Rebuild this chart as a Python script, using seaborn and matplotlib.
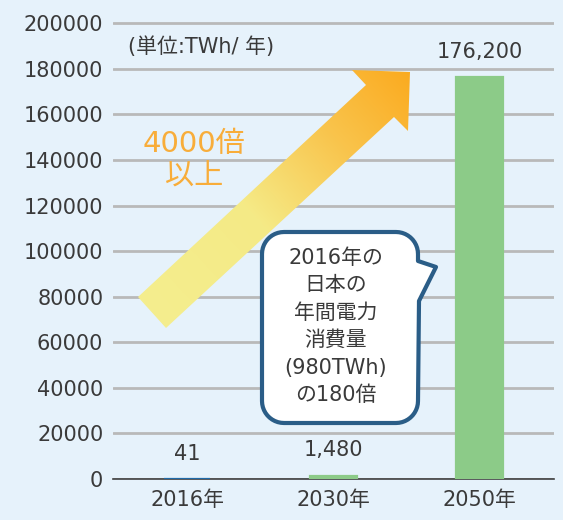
import numpy as np
import pandas as pd
import seaborn as sns
import matplotlib.pyplot as plt
from matplotlib.patches import Polygon, PathPatch
from matplotlib.path import Path
from matplotlib.colors import LinearSegmentedColormap

# data
years = ["2016年", "2030年", "2050年"]
power = [41, 1480, 176200]          # TWh / year
bar_colors = ["#1f6aa8", "#8ccb88", "#8ccb88"]
yticks = list(range(0, 200001, 20000))
unit_label = "(単位:TWh/ 年)"
arrow_lines = ["4000倍", "以上"]
bubble_lines = ["2016年の", "日本の", "年間電力", "消費量", "(980TWh)", "の180倍"]

bg = "#e6f2fb"
txt = "#3a3a3a"
sns.set_theme(style="white")
plt.rcParams['font.family'] = ['DejaVu Sans', 'Noto Sans CJK JP']

df = pd.DataFrame({"year": years, "power": power})

fig = plt.figure(figsize=(5.63, 5.2), dpi=100, facecolor=bg)
ax = fig.add_axes([0.2007, 0.0788, 0.7833, 0.8942])
ax.set_facecolor(bg)
sns.barplot(data=df, x="year", y="power", hue="year", palette=bar_colors,
            width=0.32, saturation=1, legend=False, ax=ax, zorder=5)
# thin outline in the bar colour so the tiny 2016 / 2030 bars stay visible
for p, col in zip(ax.patches, bar_colors):
    p.set_edgecolor(col)
    p.set_linewidth(1.6)
ax.set_xlim(-0.507, 2.51)
ax.set_ylim(0, 204000)
ax.set_yticks(yticks)
ax.set_yticklabels([str(v) for v in yticks])
ax.set_axisbelow(True)
ax.yaxis.grid(True, color="#b9b9b9", lw=2)
ax.xaxis.grid(False)
for s in ["left", "right", "top"]:
    ax.spines[s].set_visible(False)
ax.spines["bottom"].set_color("#404040")
ax.spines["bottom"].set_linewidth(1.2)
ax.spines["bottom"].set_zorder(4)
ax.tick_params(axis="y", length=0, pad=7, labelsize=15, labelcolor=txt)
ax.tick_params(axis="x", length=0, pad=8, labelsize=15, labelcolor=txt)
ax.set_xlabel("")
ax.set_ylabel("")

for c in ax.containers:
    ax.bar_label(c, labels=[f"{v:,.0f}" for v in c.datavalues],
                 padding=11, fontsize=15, color=txt)

# overlay in pixel coords for the arrow and the speech bubble
ov = fig.add_axes([0, 0, 1, 1], zorder=5)
ov.patch.set_alpha(0)
ov.axis("off")

# gradient arrow
arrow_pts = [(138, 297), (366, 85), (352, 70), (410, 72), (408, 131), (394, 117), (166, 328)]
arrow = Polygon(arrow_pts, closed=True, facecolor="none", edgecolor="none")
ov.add_patch(arrow)
tail = np.array([152, 312.5])
tip = np.array([410, 72])
d = tip - tail
xs = np.linspace(130, 415, 300)
ys = np.linspace(65, 335, 300)
X, Y = np.meshgrid(xs, ys)
t = np.clip(((X - tail[0]) * d[0] + (Y - tail[1]) * d[1]) / (d @ d), 0, 1)
cmap = LinearSegmentedColormap.from_list(
    "arr", [(0, "#f4ee8e"), (0.4, "#f5ea86"), (0.72, "#f9c44c"), (1, "#fbab20")])
im = ov.imshow(t, extent=(130, 415, 335, 65), origin="upper", cmap=cmap,
               aspect="auto", interpolation="bilinear")
im.set_clip_path(arrow)

for line, y in zip(arrow_lines, [144, 177]):
    ov.text(194, y, line, fontsize=21, color="#f8ad3a", ha="center", va="center")

# speech bubble
def arc(cx, cy, r, a0, a1, n=12):
    a = np.radians(np.linspace(a0, a1, n))
    return list(zip(cx + r * np.cos(a), cy + r * np.sin(a)))

x0, x1, y0, y1, r = 262, 418, 232, 423, 22
pts = [(x0 + r, y0), (x1 - r, y0)]
pts += arc(x1 - r, y0 + r, r, -90, 0)
pts += [(x1, 261), (436, 267), (419, 301), (x1, y1 - r)]
pts += arc(x1 - r, y1 - r, r, 0, 90)
pts += [(x0 + r, y1)]
pts += arc(x0 + r, y1 - r, r, 90, 180)
pts += [(x0, y0 + r)]
pts += arc(x0 + r, y0 + r, r, 180, 270)
bubble = PathPatch(Path(pts + [pts[0]], closed=True), facecolor="white",
                   edgecolor="#2a5d87", lw=3, joinstyle="round")
ov.add_patch(bubble)
for i, line in enumerate(bubble_lines):
    ov.text(336, 258 + i * 27.4, line, fontsize=15, color=txt, ha="center", va="center")

ov.text(128, 47, unit_label, fontsize=15, color=txt, ha="left", va="center")

ov.set_xlim(0, 563)
ov.set_ylim(520, 0)

fig.savefig("out.png", dpi=100, facecolor=bg)
